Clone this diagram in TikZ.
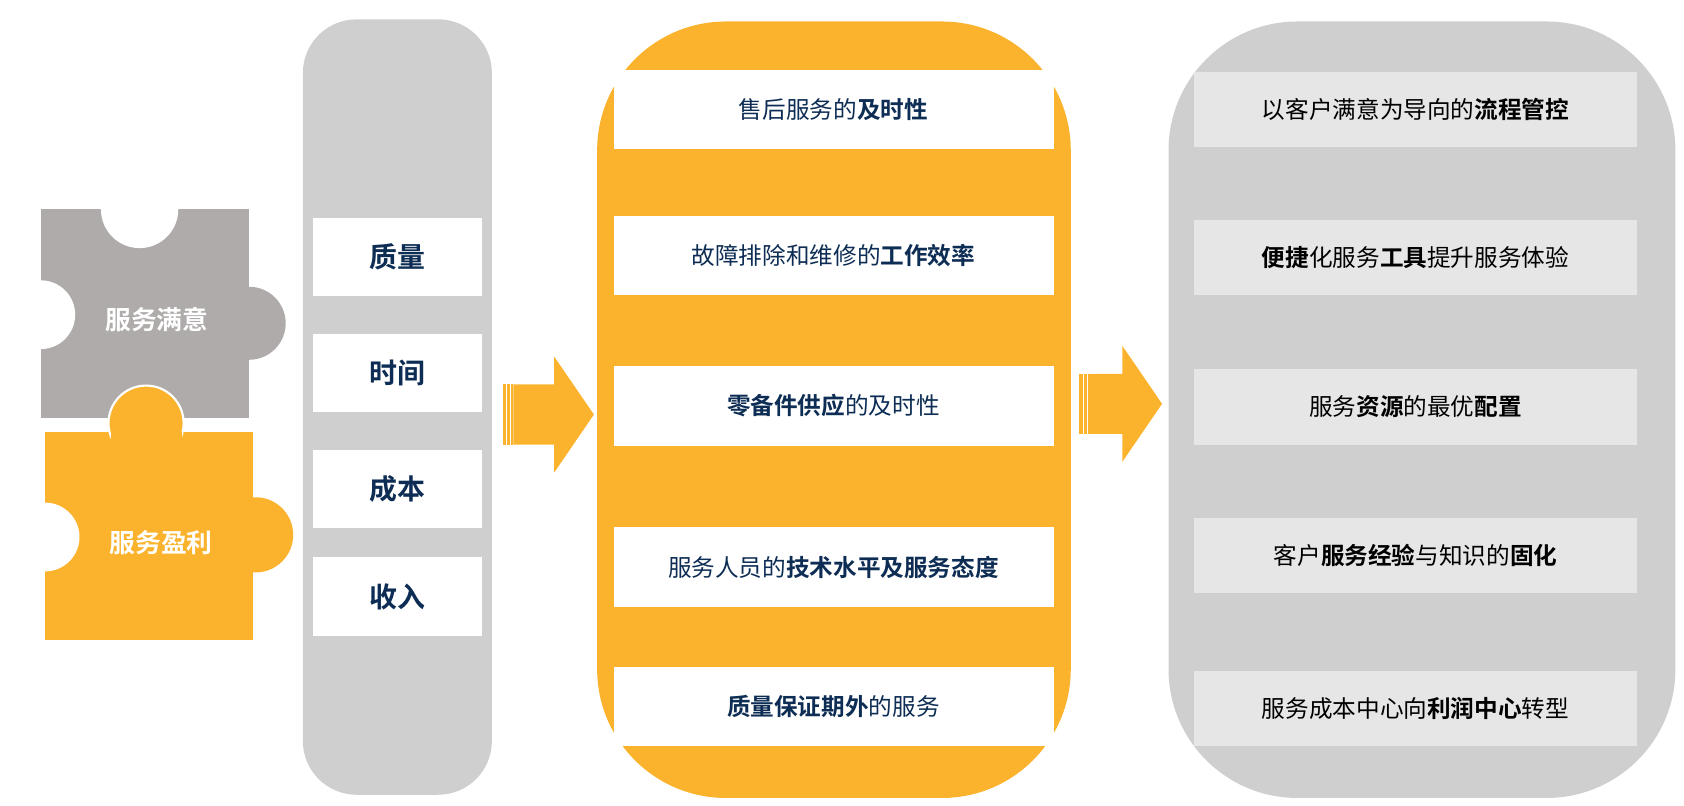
\documentclass[tikz,border=0pt]{standalone}
\usepackage{fontspec}
\setmainfont{Noto Sans CJK SC}[BoldFont={* Bold}]
\definecolor{org}{HTML}{FBB32E}
\definecolor{gry}{HTML}{D0CFD0}
\definecolor{pgry}{HTML}{AEABAA}
\definecolor{navy}{HTML}{0D2D54}
\definecolor{lbox}{HTML}{E6E6E6}
\begin{document}
\begin{tikzpicture}[x=0.5pt,y=-0.5pt,
  wbox/.style={fill=white,draw=none},
  ltxt/.style={font=\fontsize{13}{15}\selectfont\bfseries,text=navy},
  mtxt/.style={font=\fontsize{11}{13}\selectfont,text=navy},
  rtxt/.style={font=\fontsize{11}{13}\selectfont,text=black},
  ptxt/.style={font=\fontsize{12}{14}\selectfont\bfseries,text=white}]
\useasboundingbox (0,0) rectangle (1568,750);
% puzzle gray
\fill[pgry] (38,195) rectangle (232,389);
\fill[pgry] (232,301) circle[radius=34];
\fill[white] (130,195) circle[radius=36];
\fill[white] (38,293) circle[radius=32];
% puzzle orange
\fill[org] (42,402) rectangle (236,596);
\fill[org] (238,498) circle[radius=35];
\fill[white] (42,500) circle[radius=32];
\fill[org,draw=white,line width=1pt] (136,394) circle[radius=35];
\fill[org] (103,402) rectangle (169,440);
\node[ptxt] (p1) at (146,298) {服务满意};
\node[ptxt] (p2) at (150,505) {服务盈利};
% column 1
\fill[gry,rounded corners=25] (282,18) rectangle (458,740);
\foreach \n/\a/\b/\t in {c1/203/276/质量,c2/311/384/时间,c3/419/492/成本,c4/519/592/收入}{
  \fill[wbox] (291,\a) rectangle (449,\b);
  \node[ltxt] (\n) at (370,{(\a+\b)/2}) {\t};
}
% arrow 1
\foreach \s/\e in {468/471,472/475,476/478}{\fill[org] (\s,358) rectangle (\e,414);}
\fill[org] (478,358) -- (516,358) -- (516,332) -- (553,386) -- (516,440) -- (516,414) -- (478,414) -- cycle;
% middle panel
\fill[org,rounded corners=60] (556,20) rectangle (997,743);
\foreach \n/\a/\b/\t in {
 m1/65/139/{售后服务的\textbf{及时性}},
 m2/201/275/{故障排除和维修的\textbf{工作效率}},
 m3/341/415/{\textbf{零备件供应}的及时性},
 m4/491/565/{服务人员的\textbf{技术水平及服务态度}},
 m5/621/695/{\textbf{质量保证期外}的服务}}{
  \fill[wbox] (572,\a) rectangle (981,\b);
  \node[mtxt] (\n) at (776,{(\a+\b)/2}) {\t};
}
% arrow 2
\foreach \s/\e in {1005/1008,1009/1012,1013/1015}{\fill[org] (\s,348) rectangle (\e,404);}
\fill[org] (1015,348) -- (1045,348) -- (1045,322) -- (1082,376) -- (1045,430) -- (1045,404) -- (1015,404) -- cycle;
% right panel
\fill[gry,rounded corners=60] (1088,20) rectangle (1560,743);
\foreach \n/\a/\b/\t in {
 r1/67/137/{以客户满意为导向的\textbf{流程管控}},
 r2/205/275/{\textbf{便捷}化服务\textbf{工具}提升服务体验},
 r3/344/414/{服务\textbf{资源}的最优\textbf{配置}},
 r4/482/552/{客户\textbf{服务经验}与知识的\textbf{固化}},
 r5/625/695/{服务成本中心向\textbf{利润中心}转型}}{
  \fill[lbox] (1112,\a) rectangle (1524,\b);
  \node[rtxt] (\n) at (1318,{(\a+\b)/2}) {\t};
}
\end{tikzpicture}
\end{document}
